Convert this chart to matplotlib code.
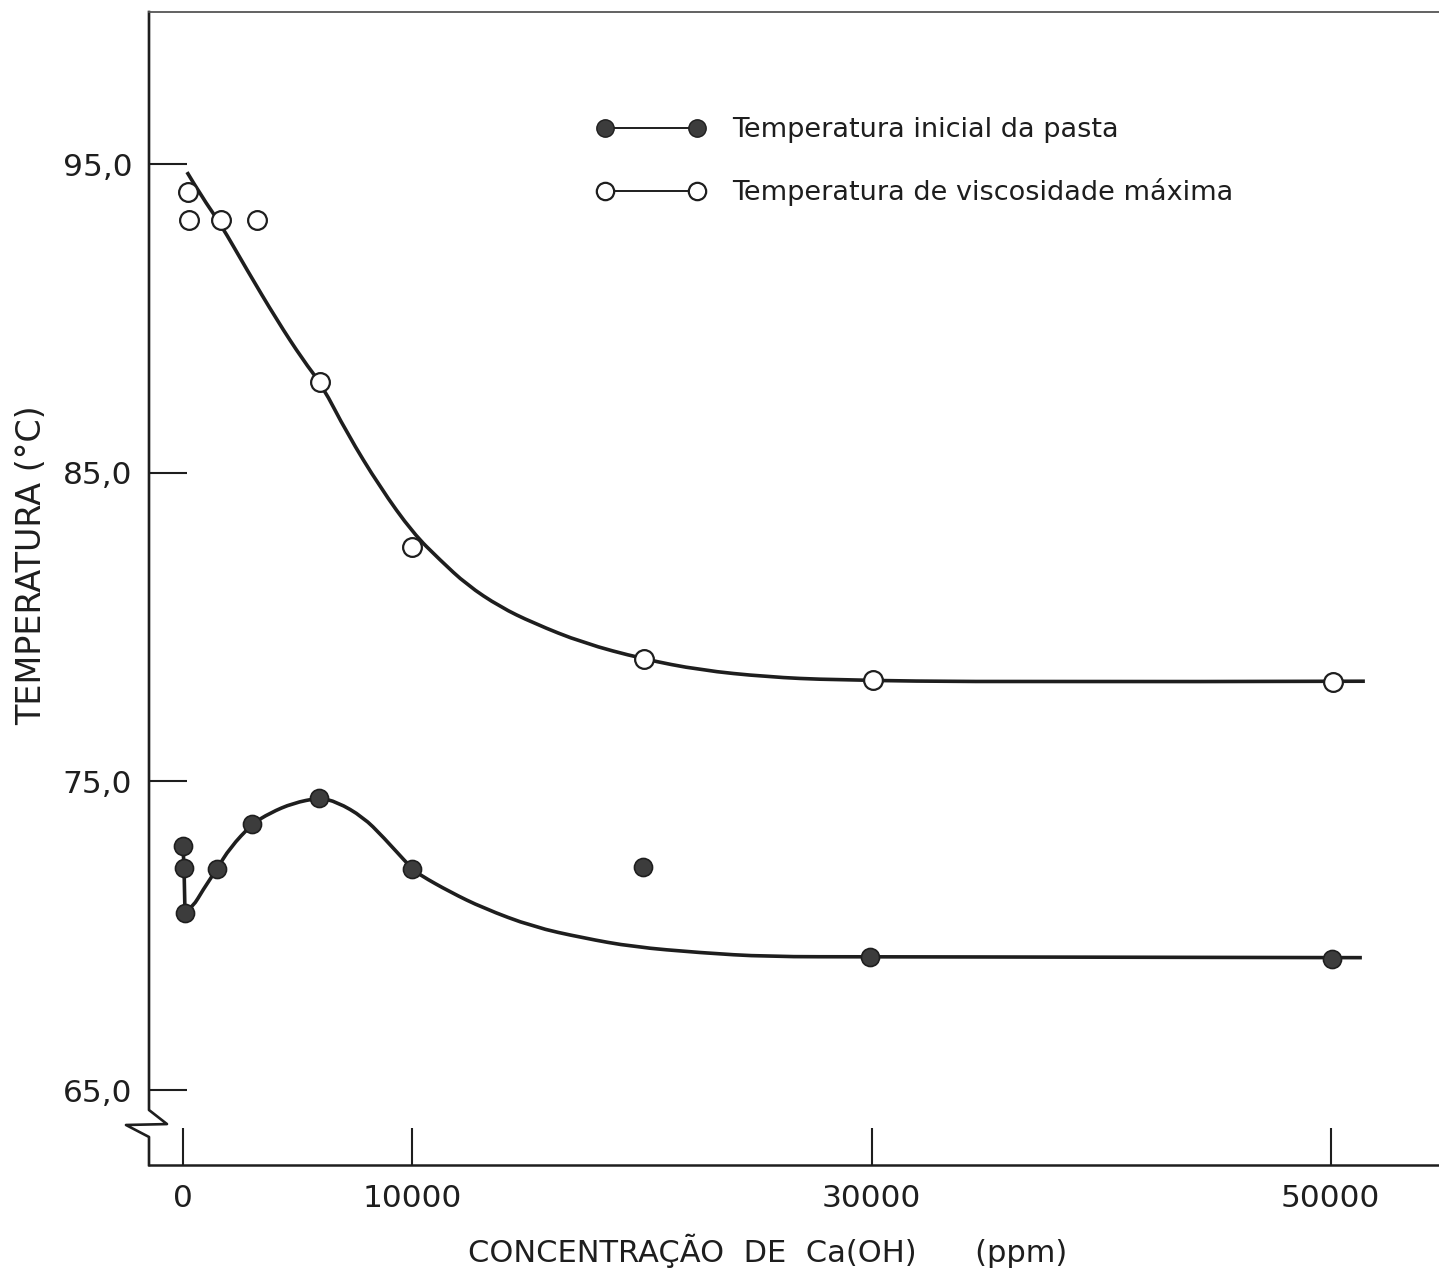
import matplotlib
matplotlib.use('Agg')
import matplotlib.pyplot as plt
from matplotlib.lines import Line2D
from matplotlib.path import Path
from matplotlib.patches import PathPatch

# pontos medidos - temperatura de viscosidade maxima (circulos abertos)
conc_max = [230, 270, 1670, 3240, 5980, 9990, 20090, 30060, 50100]
temp_max = [94.1, 93.2, 93.2, 93.2, 87.95, 82.6, 78.97, 78.29, 78.22]

# pontos medidos - temperatura inicial da pasta (circulos cheios)
conc_ini = [13, 57, 100, 1490, 3020, 5940, 9990, 20050, 29930, 50050]
temp_ini = [72.91, 72.2, 70.74, 72.17, 73.62, 74.47, 72.17, 72.23, 69.31, 69.25]

# curvas ajustadas a mao
curva_max_x = [187, 840, 1625, 2800, 4107, 5239, 6066, 7155, 8592, 10030, 11206,
               12382, 13819, 15256, 17434, 20047, 22529, 25447, 28321, 35594, 51489]
curva_max_y = [94.75, 93.94, 93.10, 91.58, 89.95, 88.66, 87.85, 86.29, 84.54, 83.05,
               82.18, 81.37, 80.66, 80.14, 79.49, 78.97, 78.61, 78.39, 78.29, 78.22, 78.25]

curva_ini_x = [13, 57, 100, 449, 884, 1494, 2060, 3018, 3802, 4804, 5936, 6720, 7852,
               8723, 9986, 10334, 11641, 13078, 15256, 17434, 19611, 22529, 25447,
               29929, 51358]
curva_ini_y = [72.91, 72.2, 70.74, 70.94, 71.49, 72.17, 72.85, 73.62, 73.98, 74.30,
               74.47, 74.34, 73.85, 73.21, 72.17, 71.97, 71.42, 70.90, 70.29, 69.93,
               69.64, 69.45, 69.32, 69.32, 69.29]

xticks = [0, 10000, 30000, 50000]
xticklabels = ['0', '10000', '30000', '50000']
yticks = [65, 75, 85, 95]
yticklabels = ['65,0', '75,0', '85,0', '95,0']

ink = '#1e1e1e'
plt.rcParams['font.family'] = ['DejaVu Sans']


def curva_suave(xs, ys, n_retos=0):
    # primeiros n_retos segmentos em linha reta, o resto com bezier quadratica
    pts = list(zip(xs, ys))
    verts = [pts[0]]
    codes = [Path.MOVETO]
    for p in pts[1:n_retos + 1]:
        verts.append(p)
        codes.append(Path.LINETO)
    resto = pts[n_retos:]
    for i in range(1, len(resto) - 1):
        meio = ((resto[i][0] + resto[i + 1][0]) / 2, (resto[i][1] + resto[i + 1][1]) / 2)
        if i == len(resto) - 2:
            meio = resto[i + 1]
        verts += [resto[i], meio]
        codes += [Path.CURVE3, Path.CURVE3]
    return Path(verts, codes)


fig = plt.figure(figsize=(14.39, 12.72), dpi=100)
ax = fig.add_axes([149/1439, 1 - 1165/1272, 1290/1439, 1153/1272])

# curvas
ax.add_patch(PathPatch(curva_suave(curva_max_x, curva_max_y), fill=False,
                       edgecolor=ink, lw=2.6, zorder=2))
ax.add_patch(PathPatch(curva_suave(curva_ini_x, curva_ini_y, n_retos=2), fill=False,
                       edgecolor=ink, lw=2.6, zorder=2, joinstyle='round'))

# pontos
ax.plot(conc_max, temp_max, 'o', ms=13.5, mfc='white', mec=ink, mew=1.6, zorder=3)
ax.plot(conc_ini, temp_ini, 'o', ms=13, mfc='#3c3c3c', mec=ink, mew=1.2, zorder=3)

ax.set_xlim(-1468, 54717)
ax.set_ylim(62.57, 99.94)

ax.set_xticks(xticks)
ax.set_xticklabels(xticklabels)
ax.set_yticks(yticks)
ax.set_yticklabels(yticklabels)
ax.tick_params(direction='in', length=27, width=1.5, colors=ink, labelsize=22.5)
ax.tick_params(axis='y', pad=12)
ax.tick_params(axis='x', pad=14)

ax.spines['right'].set_visible(False)
ax.spines['left'].set_visible(False)
ax.spines['bottom'].set_linewidth(1.8)
ax.spines['bottom'].set_color(ink)
ax.spines['top'].set_linewidth(1.3)
ax.spines['top'].set_color('#555555')

# eixo y com quebra
quebra_x = [0, 0, 0.01395, -0.01783, 0, 0]
quebra_y = [1, 0.0477, 0.0355, 0.0347, 0.0243, 0]
ax.add_line(Line2D(quebra_x, quebra_y, transform=ax.transAxes, color=ink,
                   lw=1.9, clip_on=False))

# legenda
h_ini = Line2D([], [], color=ink, lw=1.4, marker='o', ms=12.5, mfc='#3c3c3c', mec=ink)
h_max = Line2D([], [], color=ink, lw=1.4, marker='o', ms=12.5, mfc='white', mec=ink, mew=1.6)
ax.legend([h_ini, h_max],
          ['Temperatura inicial da pasta', 'Temperatura de viscosidade máxima'],
          loc='upper left', bbox_to_anchor=(597/1439, 1 - 117/1272),
          bbox_transform=fig.transFigure, frameon=False, numpoints=2,
          fontsize=19.5, handlelength=4.0, handletextpad=1.0, labelspacing=1.3,
          borderpad=0, borderaxespad=0, labelcolor=ink)

fig.text(468/1439, 1 - 1251/1272, 'CONCENTRAÇÃO  DE  Ca(OH)      (ppm)',
         ha='left', va='center', fontsize=22, color=ink)
fig.text(32/1439, 1 - 565/1272, 'TEMPERATURA (°C)', rotation=90,
         ha='center', va='center', fontsize=24, color=ink)

fig.savefig('out.png', dpi=100)
